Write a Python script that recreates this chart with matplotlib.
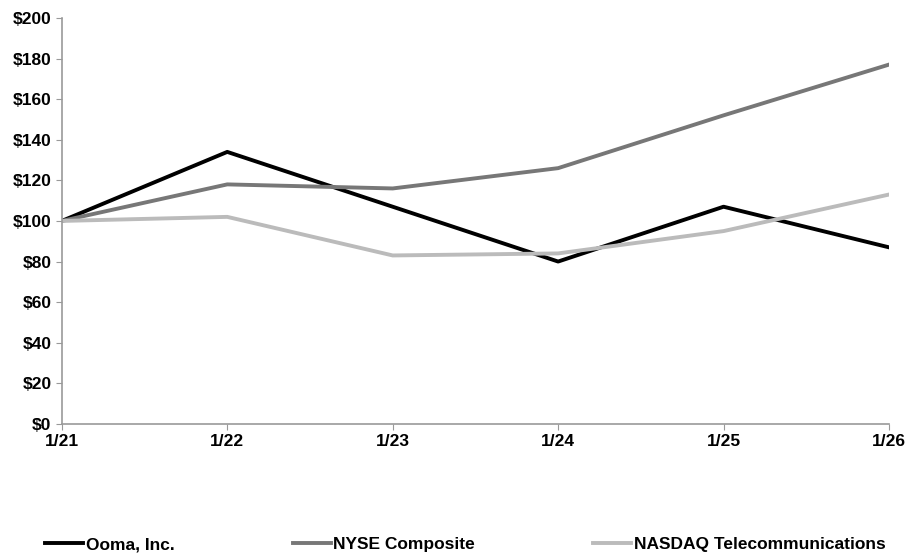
import matplotlib.pyplot as plt

plt.rcParams['font.family'] = ['Liberation Sans', 'DejaVu Sans']
plt.rcParams['font.weight'] = 'bold'

periods = ['1/21', '1/22', '1/23', '1/24', '1/25', '1/26']
ooma = [100, 134, 107, 80, 107, 87]
nyse = [100, 118, 116, 126, 152, 177]
nasdaq = [100, 102, 83, 84, 95, 113]

fig = plt.figure(figsize=(9.09, 5.54), dpi=100)
ax = fig.add_axes([0.068, 0.2347, 0.91, 0.733])

x = list(range(len(periods)))
ax.plot(x, ooma, color='#000000', lw=2.8, label='Ooma, Inc.')
ax.plot(x, nyse, color='#777777', lw=2.8, label='NYSE Composite')
ax.plot(x, nasdaq, color='#bbbbbb', lw=2.8, label='NASDAQ Telecommunications')

ax.set_xlim(0, 5)
ax.set_ylim(0, 200)
ax.set_xticks(x)
ax.set_xticklabels(periods)
ax.set_yticks(range(0, 201, 20))
ax.set_yticklabels(['$%d' % v for v in range(0, 201, 20)])

for s in ['top', 'right']:
    ax.spines[s].set_visible(False)
for s in ['left', 'bottom']:
    ax.spines[s].set_color('#999999')
    ax.spines[s].set_linewidth(1.2)
ax.tick_params(colors='#999999', labelcolor='black', labelsize=12.5, length=4)
ax.tick_params(axis='x', pad=3)

fig.legend(loc='lower center', bbox_to_anchor=(0.512, -0.025), ncol=3, frameon=False,
           fontsize=12.5, handlelength=2.2, handletextpad=0.15, columnspacing=6.8)

fig.savefig('out.png')
